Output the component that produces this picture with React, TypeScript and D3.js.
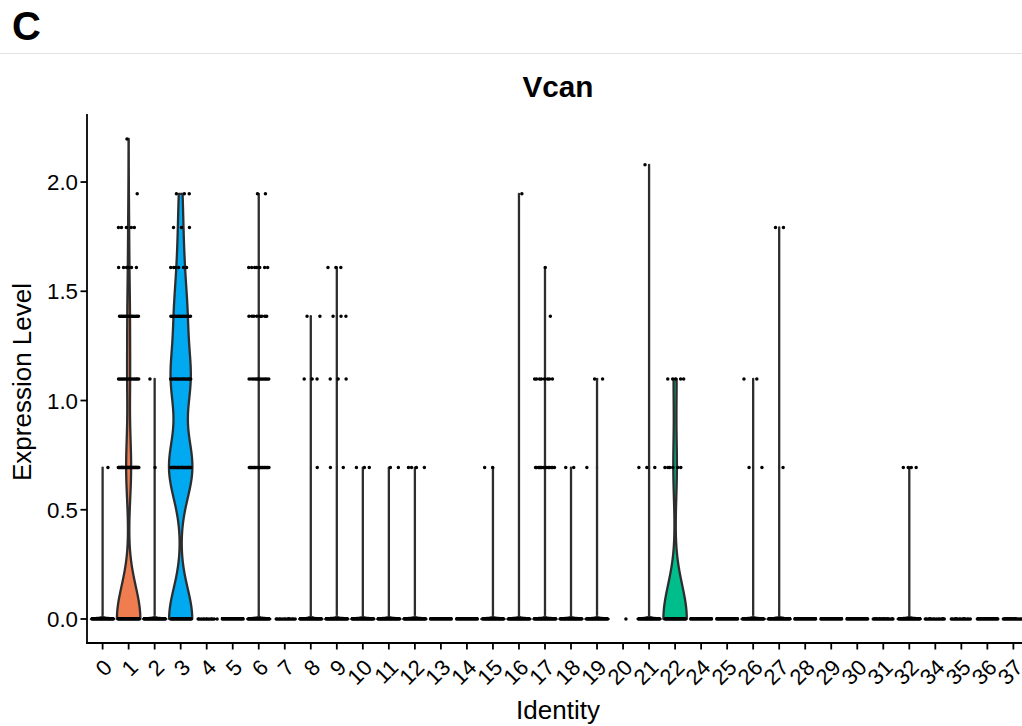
import React from 'react';
import * as d3 from 'd3';

// Cluster identities along the x axis
const clusterIds = [
  '0', '1', '2', '3', '4', '5', '6', '7', '8', '9', '10', '11', '12', '13', '14', '15', '16', '17',
  '18', '19', '20', '21', '22', '24', '25', '26', '27', '28', '29', '30', '31', '32', '34', '35', '36', '37',
];

// Discrete expression levels (log-normalised counts 0..8)
const levelValues = [0, 0.693, 1.099, 1.386, 1.609, 1.792, 1.946, 2.079, 2.197];

// Number of cells observed at each expression level, one row per cluster
const cellCounts: number[][] = [
  [400, 1],
  [200, 42, 22, 18, 6, 5, 1, 0, 1],
  [300, 1, 1],
  [30, 30, 24, 14, 6, 3, 3],
  [12],
  [300],
  [700, 20, 15, 8, 7, 0, 2],
  [14],
  [400, 1, 3, 2],
  [400, 2, 3, 3, 3],
  [400, 3],
  [400, 2],
  [400, 4],
  [250],
  [200],
  [80, 2],
  [300, 0, 0, 0, 0, 0, 1],
  [600, 14, 8, 1, 1],
  [400, 2],
  [120, 1, 2],
  [1],
  [300, 3, 0, 0, 0, 0, 0, 1],
  [40, 6, 5],
  [300],
  [300],
  [400, 2, 2],
  [400, 1, 0, 0, 0, 2],
  [300],
  [250],
  [120],
  [20],
  [250, 4],
  [15],
  [15],
  [40],
  [25],
];

// Kernel bandwidth of each cluster's density estimate
const kdeBandwidth = [
  0.004, 0.15, 0.004, 0.14, 0.004, 0.004, 0.004, 0.004, 0.004, 0.004, 0.004, 0.004,
  0.004, 0.004, 0.004, 0.004, 0.004, 0.004, 0.004, 0.004, 0.004, 0.004, 0.155, 0.004,
  0.004, 0.004, 0.004, 0.004, 0.004, 0.004, 0.004, 0.004, 0.004, 0.004, 0.004, 0.004,
];

// Fill colour of each cluster's violin
const violinFill = [
  '#F8766D', '#F07D50', '#E58700', '#00A9F0', '#C99800', '#A3A500', '#6BB100', '#00BA38',
  '#00BF7D', '#00C0AF', '#00BCD8', '#00B0F6', '#619CFF', '#B983FF', '#E76BF3', '#FD61D1',
  '#FF67A4', '#F8766D', '#E58700', '#A3A500', '#6BB100', '#00BA38', '#00BE8B', '#00C0AF',
  '#00BCD8', '#00B0F6', '#619CFF', '#B983FF', '#E76BF3', '#FD61D1', '#FF67A4', '#F8766D',
  '#C99800', '#6BB100', '#00BF7D', '#619CFF',
];

const yTicks = [0, 0.5, 1, 1.5, 2];

const W = 1022;
const H = 726;
const FONT = '"Liberation Sans", Arial, Helvetica, sans-serif';
const panelLeft = 87;
const panelRight = 1029;
const panelTop = 115;
const panelBottom = 643;

const x = d3.scalePoint<string>().domain(clusterIds).range([panelLeft, panelRight]).padding(0.6);
const step = x.step();

const maxLevel = d3.max(cellCounts, (row) =>
  d3.max(row.map((c, i) => (c > 0 ? levelValues[i] : 0)))
) as number;
const pad = maxLevel * 0.05;
const y = d3.scaleLinear().domain([-pad, maxLevel + pad]).range([panelBottom, panelTop]);

const frac = (v: number) => v - Math.floor(v);

function violinPath(ci: number): string | null {
  const counts = cellCounts[ci];
  const present = counts.map((c, i) => (c > 0 ? levelValues[i] : null)).filter((v) => v !== null) as number[];
  const total = d3.sum(counts);
  if (total < 2 || present.length < 2) return null;
  const lo = d3.min(present) as number;
  const hi = d3.max(present) as number;
  const h = kdeBandwidth[ci];
  const grid = d3.range(1024).map((k) => lo + ((hi - lo) * k) / 1023);
  const dens = grid.map((g) =>
    d3.sum(counts, (c, i) => c * Math.exp(-((g - levelValues[i]) ** 2) / (2 * h * h)))
  );
  const dMax = d3.max(dens) as number;
  const cx = x(clusterIds[ci]) as number;
  const pts = grid.map((g, k) => ({ v: g, w: (0.45 * step * dens[k]) / dMax }));
  const area = d3
    .area<{ v: number; w: number }>()
    .y((d) => y(d.v))
    .x0((d) => cx - d.w)
    .x1((d) => cx + d.w);
  return area(pts);
}

function jitterPath(ci: number): string {
  const cx = x(clusterIds[ci]) as number;
  const parts: string[] = [];
  cellCounts[ci].forEach((n, li) => {
    const seed = frac(ci * 0.3819 + li * 0.7548);
    const py = y(levelValues[li]);
    for (let i = 0; i < n; i++) {
      const off = (frac(i * 0.6180339887 + seed) * 2 - 1) * 0.4 * step;
      parts.push(`M${(cx + off).toFixed(2)},${py.toFixed(2)}h0.01`);
    }
  });
  return parts.join('');
}

export default function App() {
  return (
    <svg
      width={W}
      height={H}
      viewBox={`0 0 ${W} ${H}`}
      style={{ position: 'absolute', left: 0, top: 0, background: '#fff' }}
      fontFamily={FONT}
    >
      <rect width={W} height={H} fill="#fff" />
      <text x={12} y={40} fontSize={40} fontWeight="bold" fill="#000">C</text>
      <line x1={0} x2={W} y1={53.5} y2={53.5} stroke="#e3e3e3" strokeWidth={1} />

      <text x={(panelLeft + panelRight) / 2} y={97} fontSize={29.7} fontWeight="bold" textAnchor="middle" fill="#000">
        Vcan
      </text>

      {/* violins */}
      {clusterIds.map((id, ci) => {
        const d = violinPath(ci);
        return d ? (
          <path key={`v${id}`} d={d} fill={violinFill[ci]} stroke="#2d2d2d" strokeWidth={2.3} strokeLinejoin="round" />
        ) : null;
      })}

      {/* jittered cells */}
      {clusterIds.map((id, ci) => (
        <path key={`p${id}`} d={jitterPath(ci)} stroke="#000" strokeWidth={3.5} strokeLinecap="round" fill="none" />
      ))}

      {/* y axis */}
      <line x1={panelLeft} x2={panelLeft} y1={panelTop} y2={panelBottom} stroke="#000" strokeWidth={1.8} strokeLinecap="square" />
      {yTicks.map((t) => (
        <g key={`yt${t}`}>
          <line x1={panelLeft - 6.5} x2={panelLeft} y1={y(t)} y2={y(t)} stroke="#000" strokeWidth={1.8} />
          <text x={panelLeft - 9} y={y(t)} dy="0.36em" fontSize={22.3} textAnchor="end" fill="#000">
            {t.toFixed(1)}
          </text>
        </g>
      ))}

      {/* x axis */}
      <line x1={panelLeft} x2={panelRight} y1={panelBottom} y2={panelBottom} stroke="#000" strokeWidth={1.8} strokeLinecap="square" />
      {clusterIds.map((id) => {
        const cx = x(id) as number;
        return (
          <g key={`xt${id}`}>
            <line x1={cx} x2={cx} y1={panelBottom} y2={panelBottom + 6.5} stroke="#000" strokeWidth={1.8} />
            <text
              transform={`translate(${cx},${panelBottom + 15}) rotate(-45)`}
              dy="0.7em"
              fontSize={22}
              textAnchor="end"
              fill="#000"
            >
              {id}
            </text>
          </g>
        );
      })}

      <text x={(panelLeft + panelRight) / 2} y={719} fontSize={26} textAnchor="middle" fill="#000">
        Identity
      </text>
      <text transform={`translate(31,${(panelTop + panelBottom) / 2 + 3}) rotate(-90)`} fontSize={26} textAnchor="middle" fill="#000">
        Expression Level
      </text>
    </svg>
  );
}
